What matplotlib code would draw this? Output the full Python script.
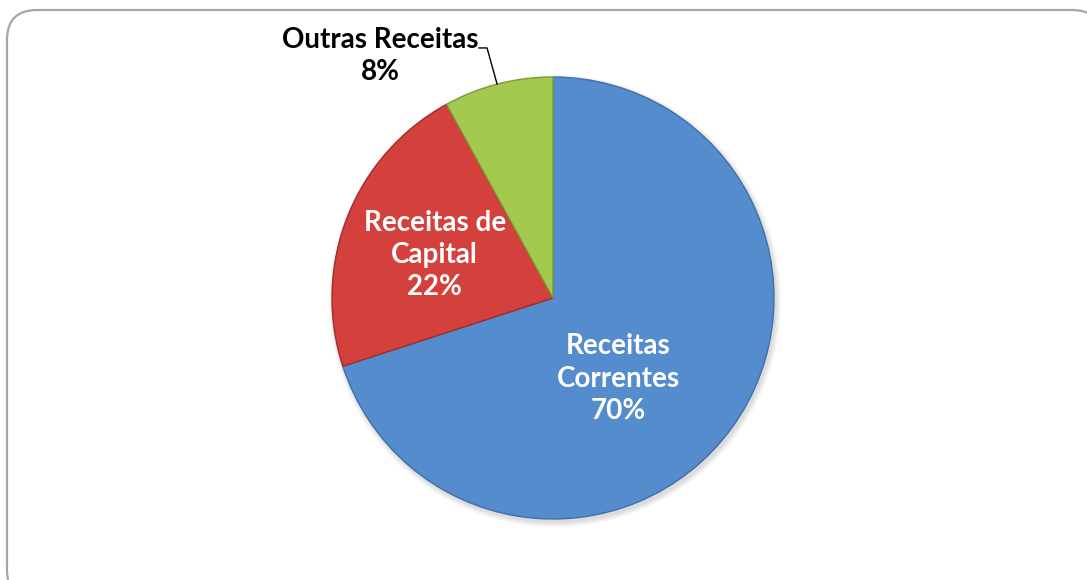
import numpy as np
import matplotlib
matplotlib.use("Agg")
import matplotlib.pyplot as plt
from matplotlib.patches import FancyBboxPatch

# Data
categories = ["Receitas Correntes", "Receitas de Capital", "Outras Receitas"]
label_lines = ["Receitas\nCorrentes", "Receitas de\nCapital", "Outras Receitas"]
values = [70, 22, 8]
colors = ["#558CCD", "#D4403C", "#A3C94E"]
edge_colors = ["#3F6FA8", "#9E2E2B", "#7C9A38"]

W, H = 1087, 580
fig = plt.figure(figsize=(W / 100, H / 100), dpi=100)
fig.patch.set_facecolor("white")
ax = fig.add_axes([0, 0, 1, 1])

# rounded frame (extends past right/bottom edges)
frame = FancyBboxPatch((7, -20), 1095, H - 10 + 20,
                       boxstyle="round,pad=0,rounding_size=30",
                       fc="white", ec="#A6A6A6", lw=1.6, zorder=0)
ax.add_patch(frame)

cx, cy, R = 553, H - 298, 221

wedges, _ = ax.pie(values, colors=colors, startangle=90, counterclock=False,
                   center=(cx, cy), radius=R, frame=True,
                   wedgeprops=dict(linewidth=1.0))
for w, ec in zip(wedges, edge_colors):
    w.set_edgecolor(ec)
    w.set_zorder(2)

# soft shadow beneath the pie
for k, a in enumerate([0.05, 0.05, 0.04]):
    ax.add_patch(plt.Circle((cx + 2, cy - 3), R + 1 + 2 * k, fc="#000000",
                            alpha=a, zorder=1, lw=0))

ax.set_xlim(0, W)
ax.set_ylim(0, H)
ax.set_aspect("equal")
ax.axis("off")

font = dict(family=["Lato", "DejaVu Sans"], weight="bold", fontsize=20)

# inside labels: radius fraction & angle tweak (layout only)
inside = {0: (0.47, -15), 1: (0.57, 1.6)}
for i, w in enumerate(wedges):
    mid = np.deg2rad((w.theta1 + w.theta2) / 2)
    if i in inside:
        frac, dtheta = inside[i]
        a = mid + np.deg2rad(dtheta)
        x = cx + frac * R * np.cos(a)
        y = cy + frac * R * np.sin(a)
        ax.text(x, y, f"{label_lines[i]}\n{values[i]}%", ha="center", va="center",
                color="white", linespacing=1.3, zorder=5, **font)
    else:
        px = cx + R * np.cos(mid)
        py = cy + R * np.sin(mid)
        tx, ty = px - 118, py + 28
        ax.text(tx, ty, f"{label_lines[i]}\n{values[i]}%", ha="center", va="center",
                color="black", linespacing=1.3, zorder=5, **font)
        ax.plot([tx + 99, tx + 107, px - 1], [ty + 8, ty + 8, py], color="black",
                lw=1.0, zorder=4)

fig.savefig("out.png", dpi=100, facecolor="white")
